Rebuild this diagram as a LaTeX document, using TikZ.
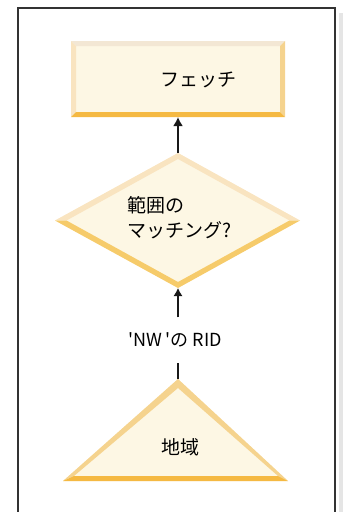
\documentclass[tikz,border=0pt]{standalone}
\usepackage{fontspec}
\newfontfamily\jpfont{Noto Sans CJK JP}
\usepackage{tikz}
\usetikzlibrary{arrows.meta}
\definecolor{bevellight}{HTML}{F3E7D4}
\definecolor{bevelleft}{HTML}{F9E4C0}
\definecolor{bevelside}{HTML}{F5D38E}
\definecolor{bevelbottom}{HTML}{F5B942}
\definecolor{bevellow}{HTML}{F6CB6A}
\definecolor{shapefill}{HTML}{FDF7E4}
\definecolor{framegray}{HTML}{333333}

\begin{document}
\begin{tikzpicture}[x=1pt,y=-1pt,font=\jpfont\fontsize{19}{25}\selectfont]
\useasboundingbox (0,0) rectangle (343,512);
% frame and shadow
\fill[black!10] (339,13) rectangle (343,512);
\draw[framegray,line width=1.2pt] (18,512)--(18,8)--(335,8)--(335,512);
% fetch box
\fill[shapefill] (71,41) rectangle (285,117);
\fill[bevellight] (71,41)--(285,41)--(280,46)--(76,46)--cycle;
\fill[bevelleft] (71,41)--(76,46)--(76,112)--(71,117)--cycle;
\fill[bevelside] (285,41)--(285,117)--(280,112)--(280,46)--cycle;
\fill[bevelbottom] (71,117)--(285,117)--(280,112)--(76,112)--cycle;
\node (fetch) at (198,80) {フェッチ};
\coordinate (fetchbot) at (178,117);
% range match diamond
\fill[shapefill] (178,153)--(300,220.5)--(178,288)--(55,220.5)--cycle;
\fill[bevelleft] (178,153)--(55,220.5)--(66.5,220.5)--(178,159)--cycle;
\fill[bevelleft] (178,153)--(300,220.5)--(289.5,220.5)--(178,159)--cycle;
\fill[bevellow] (55,220.5)--(178,288)--(178,282)--(66.5,220.5)--cycle;
\fill[bevellow] (300,220.5)--(178,288)--(178,282)--(289.5,220.5)--cycle;
\node[align=left,anchor=west] (match) at (124,218) {範囲の\\マッチング?};
\coordinate (matchtop) at (178,153);
\coordinate (matchbot) at (178,288);
% region triangle
\fill[shapefill] (178,379)--(288,481)--(63,481)--cycle;
\fill[bevelside] (178,379)--(63,481)--(74,476)--(178,388)--cycle;
\fill[bevelside] (178,379)--(288,481)--(278,476)--(178,388)--cycle;
\fill[bevelbottom] (63,481)--(288,481)--(278,476)--(74,476)--cycle;
\node (region) at (180,447) {地域};
\coordinate (regtop) at (178,379);
% connectors
\node[font=\jpfont\fontsize{18}{20}\selectfont,minimum height=45pt] (rid) at (175,340) {'NW 'の RID};
\draw[black!90,line width=2pt,-{Latex[length=9pt,width=10pt]}] (matchtop)--(fetchbot);
\draw[black!90,line width=1.2pt,-{Latex[length=8pt,width=9pt]}] (rid.north-|matchbot)--(matchbot);
\draw[black!90,line width=1.2pt] (regtop)--(rid.south-|regtop);
\end{tikzpicture}
\end{document}
